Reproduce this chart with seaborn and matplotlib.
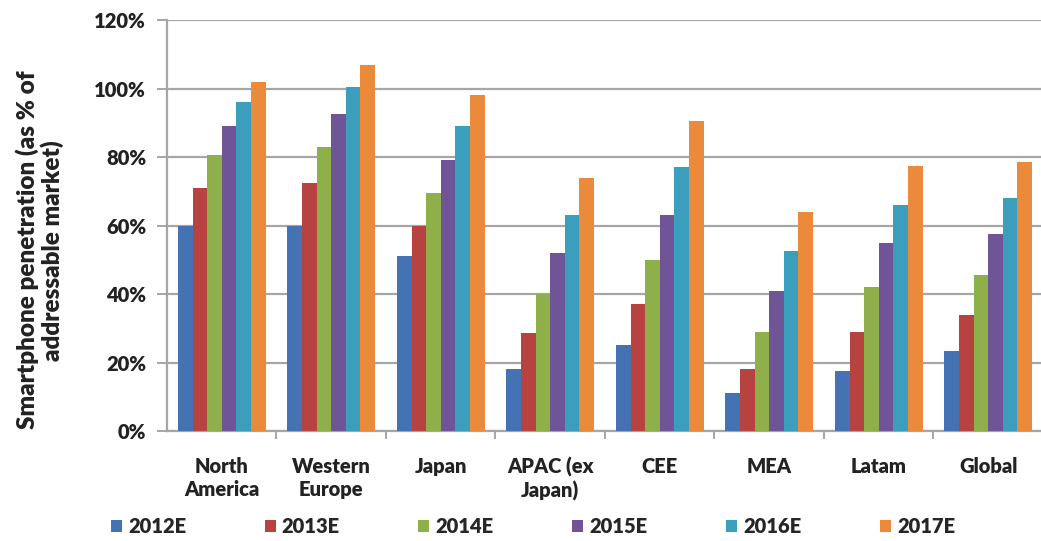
import matplotlib
matplotlib.use("Agg")
import matplotlib.pyplot as plt
from matplotlib.patches import Patch
from matplotlib.ticker import FixedLocator, PercentFormatter
import numpy as np
import pandas as pd
import seaborn as sns

regions = ["North\nAmerica", "Western\nEurope", "Japan", "APAC (ex\nJapan)",
           "CEE", "MEA", "Latam", "Global"]
years = ["2012E", "2013E", "2014E", "2015E", "2016E", "2017E"]

# Smartphone penetration, % of addressable market, one list per year
pen_2012 = [60, 60, 51, 18, 25, 11, 17.5, 23.5]
pen_2013 = [71, 72.5, 60, 28.5, 37, 18, 29, 34]
pen_2014 = [80.5, 83, 69.5, 40, 50, 29, 42, 45.5]
pen_2015 = [89, 92.5, 79, 52, 63, 41, 55, 57.5]
pen_2016 = [96, 100.5, 89, 63, 77, 52.5, 66, 68]
pen_2017 = [102, 107, 98, 74, 90.5, 64, 77.5, 78.5]

year_colors = ["#4472B2", "#B6433F", "#8FAF4B", "#6F5597", "#3C9EBD", "#EB8A3B"]

series = [pen_2012, pen_2013, pen_2014, pen_2015, pen_2016, pen_2017]
df = pd.DataFrame(
    [(r, y, v) for y, vals in zip(years, series) for r, v in zip(regions, vals)],
    columns=["region", "year", "value"],
)

sns.set_style("white")
plt.rcParams["font.family"] = ["Lato", "DejaVu Sans"]
WEIGHT = "heavy"
TEXT = "#222222"

fig = plt.figure(figsize=(10.41, 5.41), dpi=100)
ax = fig.add_axes([0.1604, 0.2033, 0.8415, 0.7597])

sns.barplot(data=df, x="region", y="value", hue="year", order=regions,
            hue_order=years, palette=year_colors, width=0.8, saturation=1,
            linewidth=0, legend=False, ax=ax, zorder=3)

ax.set_xlim(-0.5, len(regions) - 0.5)
ax.set_ylim(0, 120)
ax.set_yticks(np.arange(0, 121, 20))
ax.yaxis.set_major_formatter(PercentFormatter(decimals=0))
ax.yaxis.grid(True, color="#A6A6A6", linewidth=1.6, zorder=0)
ax.set_axisbelow(True)

for side in ("top", "right"):
    ax.spines[side].set_visible(False)
for side in ("left", "bottom"):
    ax.spines[side].set_color("#A6A6A6")
    ax.spines[side].set_linewidth(1.6)

ax.tick_params(axis="y", which="major", direction="out", length=7, width=1.4,
               color="#A6A6A6", labelsize=14.5, pad=8, left=True)
ax.tick_params(axis="x", which="major", length=0, labelsize=14.5, pad=19)
ax.xaxis.set_minor_locator(FixedLocator(np.arange(0.5, len(regions) - 0.5, 1)))
ax.tick_params(axis="x", which="minor", direction="out", length=6, width=1.4,
               color="#A6A6A6", bottom=True)
for lbl in ax.get_xticklabels() + ax.get_yticklabels():
    lbl.set_fontweight(WEIGHT)
    lbl.set_color(TEXT)
for lbl in ax.get_xticklabels():
    lbl.set_linespacing(1.2)

ax.set_xlabel("")
ax.set_ylabel("Smartphone penetration (as % of\naddressable market)",
              fontsize=17.5, fontweight=WEIGHT, color=TEXT, linespacing=1.05)
ax.yaxis.set_label_coords(-0.118, 0.44)

handles = [Patch(facecolor=c, edgecolor="none") for c in year_colors]
fig.legend(handles, years, loc="center", bbox_to_anchor=(0.512, 0.026), ncol=6,
           frameon=False, handlelength=0.55, handleheight=0.55, handletextpad=0.3,
           columnspacing=3.9, prop={"size": 14.5, "weight": WEIGHT})

fig.savefig("out.png", dpi=100)
